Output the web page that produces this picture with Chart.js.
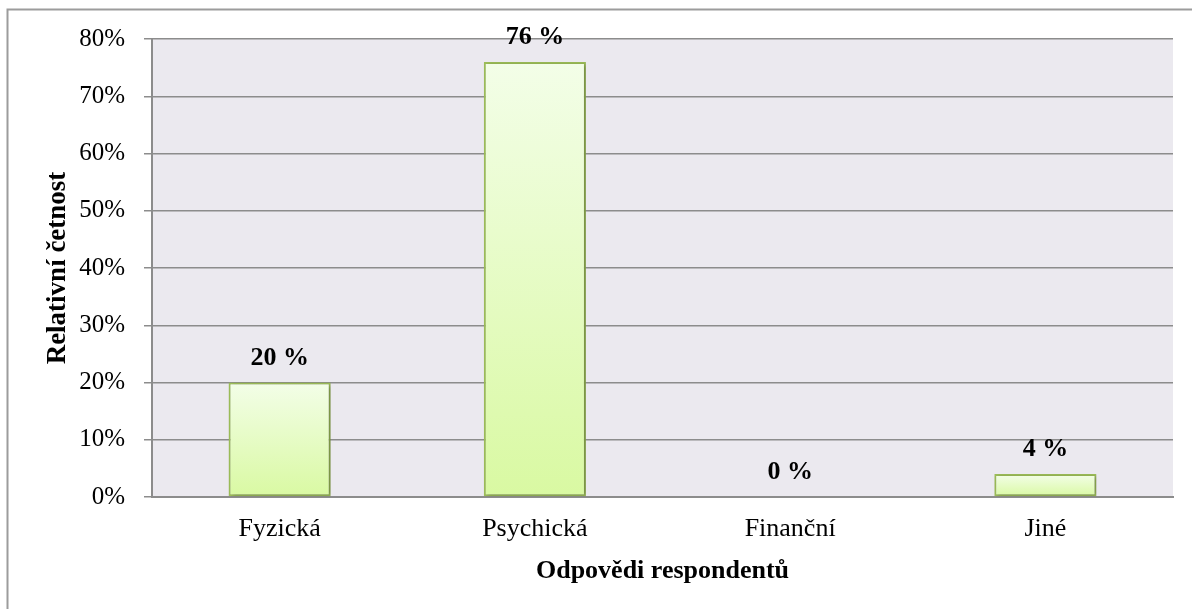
<!DOCTYPE html>
<html>
<head>
<meta charset="utf-8">
<script src="https://cdn.jsdelivr.net/npm/chart.js@4/dist/chart.umd.min.js"></script>
<style>
  html, body { margin: 0; padding: 0; background: #ffffff; overflow: hidden; }
  #wrap { width: 1192px; height: 609px; position: relative; overflow: hidden; }
  #c { display: block; }
</style>
</head>
<body>
<div id="wrap"><canvas id="c" width="1192" height="609"></canvas></div>
<script>
const categories = ["Fyzická", "Psychická", "Finanční", "Jiné"];
const values = [20, 76, 0, 4];
const valueLabels = ["20 %", "76 %", "0 %", "4 %"];
const yTickValues = [0, 10, 20, 30, 40, 50, 60, 70, 80];
const yTitle = "Relativní četnost";
const xTitle = "Odpovědi respondentů";

const FONT = "'Liberation Serif', 'Times New Roman', serif";
const GRID = "#8c8c8c";

const frame = {
  id: 'frame',
  beforeDraw(chart) {
    const {ctx, chartArea: a} = chart;
    ctx.save();
    ctx.fillStyle = "#ffffff";
    ctx.fillRect(0, 0, chart.width, chart.height);
    ctx.fillStyle = "#ebe9ef";
    ctx.fillRect(a.left, a.top, a.right - a.left, a.bottom - a.top);
    ctx.strokeStyle = "#9c9c9c";
    ctx.lineWidth = 2;
    ctx.beginPath();
    ctx.moveTo(7.5, chart.height + 2);
    ctx.lineTo(7.5, 9.5);
    ctx.lineTo(chart.width + 2, 9.5);
    ctx.stroke();
    ctx.restore();
  },
  beforeDatasetsDraw(chart) {
    const ctx = chart.ctx;
    ctx.save();
    ctx.shadowColor = "rgba(0,0,0,0.28)";
    ctx.shadowBlur = 4;
    ctx.shadowOffsetX = 2;
    ctx.shadowOffsetY = 1;
  },
  afterDatasetsDraw(chart) {
    const ctx = chart.ctx;
    ctx.restore();
    ctx.save();
    ctx.fillStyle = "#000000";
    ctx.font = "bold 26px " + FONT;
    ctx.textAlign = "center";
    ctx.textBaseline = "alphabetic";
    const meta = chart.getDatasetMeta(0);
    meta.data.forEach((bar, i) => {
      ctx.fillText(valueLabels[i], bar.x, bar.y - 18);
    });
    ctx.restore();
  }
};

new Chart(document.getElementById('c'), {
  type: 'bar',
  data: {
    labels: categories,
    datasets: [{
      data: values,
      backgroundColor: (c) => {
        const chart = c.chart;
        if (!chart.chartArea) return "#e6fbc4";
        const ys = chart.scales.y;
        const top = ys.getPixelForValue(values[c.dataIndex]);
        const bot = ys.getPixelForValue(0);
        if (bot - top < 1) return "#e6fbc4";
        const g = chart.ctx.createLinearGradient(0, top, 0, bot);
        g.addColorStop(0, "#f3fee8");
        g.addColorStop(1, "#d9f9a2");
        return g;
      },
      borderColor: "#9cbd58",
      borderWidth: 2,
      borderSkipped: false,
      barPercentage: 0.4,
      categoryPercentage: 1.0
    }]
  },
  options: {
    responsive: false,
    animation: false,
    devicePixelRatio: 1,
    layout: { padding: { left: 0, right: 19, top: 39, bottom: 0 } },
    plugins: { legend: { display: false }, tooltip: { enabled: false } },
    scales: {
      x: {
        afterFit(s) { s.height = 112; },
        grid: { display: false, drawTicks: false },
        border: { display: true, color: GRID, width: 2 },
        ticks: { color: "#000", font: { family: FONT, size: 26 }, padding: 17, maxRotation: 0 },
        title: {
          display: true, text: xTitle, color: "#000",
          font: { family: FONT, size: 26, weight: 'bold' },
          padding: { top: 0, bottom: 22 }
        }
      },
      y: {
        min: 0, max: 80,
        afterFit(s) { s.width = 152; },
        afterBuildTicks(s) { s.ticks = yTickValues.map(v => ({ value: v })); },
        grid: { color: GRID, lineWidth: 1.5, tickLength: 8, drawTicks: true, tickColor: GRID },
        border: { display: true, color: GRID, width: 2 },
        ticks: {
          color: "#000", font: { family: FONT, size: 25 }, padding: 19,
          callback: (v) => v + "%"
        },
        title: {
          display: true, text: yTitle, color: "#000",
          font: { family: FONT, size: 27, weight: 'bold' },
          padding: { top: 42, bottom: 0 }
        }
      }
    }
  },
  plugins: [frame]
});
</script>
</body>
</html>
